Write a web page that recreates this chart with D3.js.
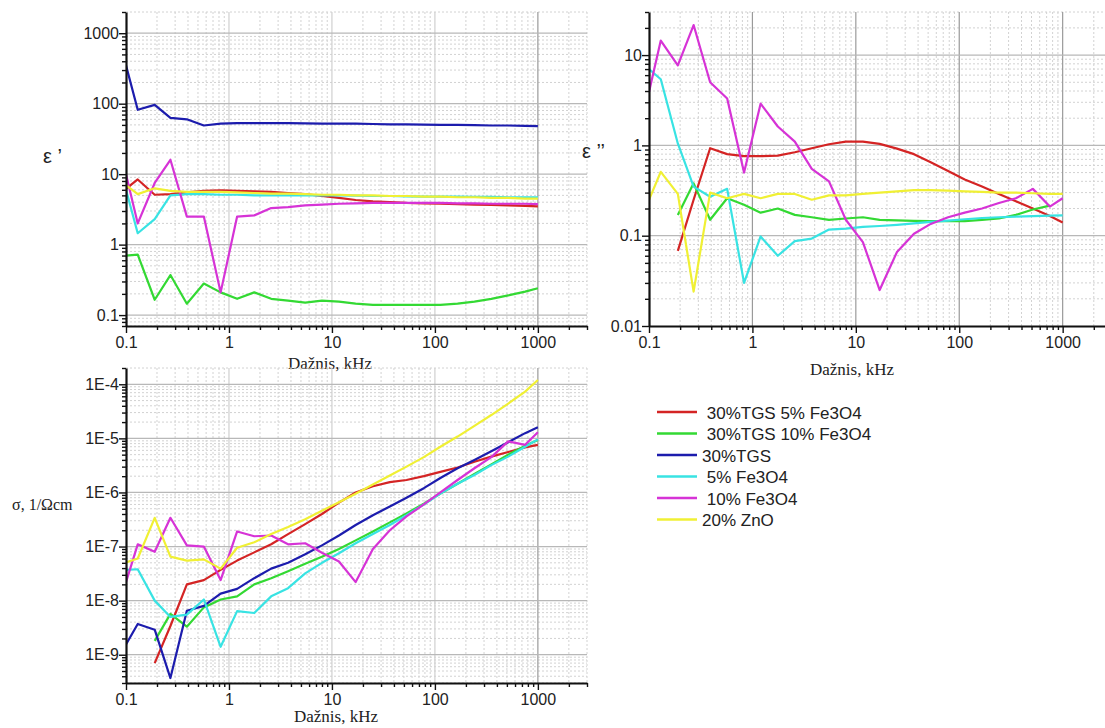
<!DOCTYPE html>
<html>
<head>
<meta charset="utf-8">
<script src="https://cdn.jsdelivr.net/npm/d3@7"></script>
<style>
body { margin: 0; background: #fff; }
svg { display: block; }
text { font-family: Arial, "Liberation Sans", sans-serif; fill: #222; }
.serif { font-family: "Times New Roman", "Liberation Serif", serif; }
</style>
</head>
<body>
<svg id="chart" width="1105" height="728"></svg>
<script>
// frequencies, kHz
var freq = [0.1, 0.13, 0.19, 0.27, 0.39, 0.57, 0.83, 1.2, 1.76, 2.57, 3.75, 5.5, 8, 11.7, 17, 25, 36.5, 53, 78, 113, 166, 242, 353, 515, 752, 1000];

var names = [" 30%TGS 5% Fe3O4", " 30%TGS 10% Fe3O4", "30%TGS", " 5% Fe3O4", " 10% Fe3O4", "20% ZnO"];
var colors = ["#d42424", "#33d933", "#1c1cad", "#38e3e3", "#d633d6", "#f0f034"];

// eps' (top left)
var e1Red = [6.2, 8.4, 5.1, 5.2, 5.5, 5.8, 5.9, 5.8, 5.7, 5.6, 5.4, 5.2, 4.9, 4.6, 4.3, 4.1, 4.0, 3.9, 3.85, 3.8, 3.75, 3.7, 3.65, 3.6, 3.55, 3.5];
var e1Green = [0.7, 0.72, 0.165, 0.37, 0.145, 0.28, 0.21, 0.17, 0.21, 0.17, 0.16, 0.15, 0.16, 0.155, 0.145, 0.14, 0.14, 0.14, 0.14, 0.14, 0.145, 0.155, 0.17, 0.19, 0.215, 0.24];
var e1Blue = [350, 82, 96, 63, 60, 49, 52, 53, 53, 53, 53, 52.5, 52, 52, 52, 51.5, 51, 51, 50.5, 50, 50, 49.5, 49, 49, 48.5, 48];
var e1Cyan = [6, 1.45, 2.3, 5.0, 5.2, 5.2, 5.1, 5.1, 5.0, 5.0, 5.0, 5.0, 5.0, 5.0, 4.95, 4.9, 4.9, 4.85, 4.8, 4.8, 4.8, 4.75, 4.75, 4.7, 4.7, 4.7];
var e1Magenta = [10, 2.0, 7.5, 16, 2.5, 2.5, 0.21, 2.5, 2.6, 3.3, 3.4, 3.6, 3.7, 3.8, 3.85, 3.9, 3.9, 3.9, 3.9, 3.9, 3.85, 3.85, 3.8, 3.8, 3.8, 3.75];
var e1Yellow = [7, 5.2, 6.3, 5.8, 5.6, 5.6, 5.6, 5.5, 5.4, 5.3, 5.3, 5.2, 5.1, 5.1, 5.0, 5.0, 4.9, 4.9, 4.8, 4.8, 4.7, 4.7, 4.6, 4.6, 4.5, 4.5];

// eps'' (top right), no 30%TGS curve
var e2Red = [null, null, 0.068, 0.25, 0.93, 0.8, 0.76, 0.76, 0.77, 0.84, 0.93, 1.03, 1.1, 1.1, 1.04, 0.92, 0.8, 0.65, 0.52, 0.42, 0.35, 0.29, 0.24, 0.2, 0.165, 0.14];
var e2Green = [null, null, 0.17, 0.38, 0.15, 0.26, 0.22, 0.18, 0.2, 0.17, 0.16, 0.15, 0.155, 0.16, 0.15, 0.148, 0.146, 0.145, 0.145, 0.145, 0.15, 0.155, 0.17, 0.195, 0.215, null];
var e2Cyan = [7.0, 5.4, 1.05, 0.35, 0.27, 0.33, 0.03, 0.098, 0.06, 0.087, 0.093, 0.117, 0.12, 0.125, 0.128, 0.132, 0.137, 0.142, 0.147, 0.152, 0.157, 0.16, 0.163, 0.165, 0.167, 0.168];
var e2Magenta = [3.9, 14.5, 7.7, 21.5, 5.0, 3.3, 0.5, 2.9, 1.62, 1.1, 0.55, 0.4, 0.15, 0.085, 0.025, 0.066, 0.105, 0.135, 0.16, 0.18, 0.2, 0.23, 0.26, 0.33, 0.21, 0.26];
var e2Yellow = [0.25, 0.51, 0.29, 0.024, 0.3, 0.26, 0.29, 0.26, 0.29, 0.29, 0.25, 0.28, 0.28, 0.29, 0.3, 0.31, 0.32, 0.32, 0.315, 0.31, 0.305, 0.3, 0.3, 0.295, 0.29, 0.29];

// sigma, 1/Ohm cm (bottom)
var sRed = [null, null, 7e-10, 3.4e-9, 2e-8, 2.4e-8, 3.7e-8, 5.5e-8, 7.8e-8, 1.1e-7, 1.7e-7, 2.6e-7, 4e-7, 6.5e-7, 1e-6, 1.3e-6, 1.55e-6, 1.7e-6, 2e-6, 2.4e-6, 2.9e-6, 3.7e-6, 4.6e-6, 5.6e-6, 6.8e-6, 7.6e-6];
var sGreen = [null, null, 1.8e-9, 5.7e-9, 3.3e-9, 7.5e-9, 1.05e-8, 1.2e-8, 2e-8, 2.6e-8, 3.5e-8, 4.8e-8, 6.5e-8, 9e-8, 1.3e-7, 1.9e-7, 2.8e-7, 4.1e-7, 6.2e-7, 9.5e-7, 1.45e-6, 2.2e-6, 3.3e-6, 5e-6, 7.3e-6, 9.3e-6];
var sBlue = [1.55e-9, 3.7e-9, 2.9e-9, 3.7e-10, 6.5e-9, 8e-9, 1.35e-8, 1.65e-8, 2.6e-8, 3.9e-8, 5e-8, 7.2e-8, 1.05e-7, 1.6e-7, 2.5e-7, 3.8e-7, 5.5e-7, 8e-7, 1.2e-6, 1.85e-6, 2.8e-6, 4e-6, 5.8e-6, 8.5e-6, 1.25e-5, 1.6e-5];
var sCyan = [3.7e-8, 3.8e-8, 1e-8, 5e-9, 5.5e-9, 1.05e-8, 1.4e-9, 6.4e-9, 5.9e-9, 1.2e-8, 1.7e-8, 3.2e-8, 5e-8, 7.5e-8, 1.15e-7, 1.7e-7, 2.5e-7, 3.8e-7, 6e-7, 9.5e-7, 1.45e-6, 2.1e-6, 3.2e-6, 4.6e-6, 7e-6, 9.6e-6];
var sMagenta = [2.2e-8, 1.1e-7, 8e-8, 3.4e-7, 1.05e-7, 1.0e-7, 2.4e-8, 1.9e-7, 1.55e-7, 1.6e-7, 1.1e-7, 1.15e-7, 7.7e-8, 5.3e-8, 2.2e-8, 9e-8, 2e-7, 3.6e-7, 6e-7, 1e-6, 1.7e-6, 2.8e-6, 4.5e-6, 8.8e-6, 7.6e-6, 1.3e-5];
var sYellow = [5.1e-8, 6e-8, 3.4e-7, 6.5e-8, 5.5e-8, 5.8e-8, 3.9e-8, 9.5e-8, 1.2e-7, 1.7e-7, 2.3e-7, 3.2e-7, 4.6e-7, 6.6e-7, 9.5e-7, 1.4e-6, 2.05e-6, 3e-6, 4.5e-6, 7e-6, 1.08e-5, 1.7e-5, 2.7e-5, 4.4e-5, 7.3e-5, 1.2e-4];

var xTicks = [0.1, 1, 10, 100, 1000];
var e1Ticks = [0.1, 1, 10, 100, 1000];
var e2Ticks = [0.01, 0.1, 1, 10];
var sTicks = [1e-9, 1e-8, 1e-7, 1e-6, 1e-5, 1e-4];

var svg = d3.select("#chart");

// minor values 2..9 x decade inside a domain
function minorValues(domain) {
    var out = [];
    var lo = Math.floor(Math.log10(domain[0])), hi = Math.ceil(Math.log10(domain[1]));
    for (var e = lo; e <= hi; e++) {
        for (var m = 2; m <= 9; m++) {
            var v = m * Math.pow(10, e);
            if (v >= domain[0] * 0.999 && v <= domain[1] * 1.001) out.push(+v.toPrecision(3));
        }
    }
    return out;
}

function drawPanel(p) {
    var x = d3.scaleLog().domain([0.1, 3000]).range([p.left, p.right]);
    var y = d3.scaleLog().domain(p.yDomain).range([p.bottom, p.top]);
    var g = svg.append("g");
    var clipId = "clip" + p.id;
    g.append("clipPath").attr("id", clipId).append("rect")
        .attr("x", p.left).attr("y", p.top)
        .attr("width", p.right - p.left).attr("height", p.bottom - p.top);

    var grid = g.append("g");
    // minor grid, dotted
    minorValues(x.domain()).forEach(function(v) {
        grid.append("line").attr("x1", x(v)).attr("x2", x(v)).attr("y1", p.top).attr("y2", p.bottom)
            .attr("stroke", "#d2d2d2").attr("stroke-dasharray", "2,2");
    });
    minorValues(p.yDomain).forEach(function(v) {
        grid.append("line").attr("x1", p.left).attr("x2", p.right).attr("y1", y(v)).attr("y2", y(v))
            .attr("stroke", "#d2d2d2").attr("stroke-dasharray", "2,2");
    });
    // major grid
    xTicks.forEach(function(v) {
        if (v === 0.1) return;
        grid.append("line").attr("x1", x(v)).attr("x2", x(v)).attr("y1", p.top).attr("y2", p.bottom)
            .attr("stroke", (v === 1000 || p.darkV) ? "#9a9a9a" : "#d0d0d0").attr("stroke-width", 1.2);
    });
    p.yTicks.forEach(function(v) {
        if (v <= p.yDomain[0]) return;
        grid.append("line").attr("x1", p.left).attr("x2", p.right).attr("y1", y(v)).attr("y2", y(v))
            .attr("stroke", "#b8b8b8").attr("stroke-width", 1.2);
    });

    // curves
    var line = d3.line()
        .defined(function(d) { return d.v != null; })
        .x(function(d) { return x(d.f); })
        .y(function(d) { return y(d.v); });
    var lines = g.append("g").attr("clip-path", "url(#" + clipId + ")");
    p.series.forEach(function(s, i) {
        if (!s) return;
        var pts = freq.map(function(f, k) { return { f: f, v: s[k] }; });
        lines.append("path").datum(pts)
            .attr("d", line)
            .attr("fill", "none")
            .attr("stroke", colors[i])
            .attr("stroke-width", 2.2)
            .attr("stroke-linejoin", "round");
    });

    // axes
    g.append("g").attr("transform", "translate(0," + p.bottom + ")")
        .call(d3.axisBottom(x).tickValues(xTicks).tickFormat(d3.format("")).tickSize(7).tickPadding(4).tickSizeOuter(0));
    g.append("g").attr("transform", "translate(0," + p.bottom + ")")
        .call(d3.axisBottom(x).tickValues(minorValues(x.domain())).tickFormat("").tickSize(4).tickSizeOuter(0))
        .select(".domain").remove();
    g.append("g").attr("transform", "translate(" + p.left + ",0)")
        .call(d3.axisLeft(y).tickValues(p.yTicks).tickFormat(p.yFormat).tickSize(7).tickPadding(0).tickSizeOuter(0));
    g.append("g").attr("transform", "translate(" + p.left + ",0)")
        .call(d3.axisLeft(y).tickValues(minorValues(p.yDomain)).tickFormat("").tickSize(4).tickSizeOuter(0))
        .select(".domain").remove();

    g.selectAll(".domain").attr("stroke", "#111").attr("stroke-width", 2.2);
    g.selectAll(".tick line").attr("stroke", "#111").attr("stroke-width", 1.4);
    g.selectAll(".tick text").attr("font-size", 16).attr("fill", "#222")
        .style("font-family", "Arial, 'Liberation Sans', sans-serif");

    g.append("text").attr("class", "serif")
        .attr("x", p.xLabel[0]).attr("y", p.xLabel[1])
        .attr("text-anchor", "middle").attr("font-size", 17)
        .text("Dažnis, kHz");
    g.append("text").attr("class", p.yLabelClass || "")
        .attr("x", p.yLabel[0]).attr("y", p.yLabel[1])
        .attr("font-size", p.yLabelSize)
        .text(p.yTitle);
}

drawPanel({
    id: 1, left: 126, right: 587, top: 12, bottom: 326,
    yDomain: [0.07, 2000], yTicks: e1Ticks, yFormat: d3.format(""),
    series: [e1Red, e1Green, e1Blue, e1Cyan, e1Magenta, e1Yellow],
    xLabel: [330, 369], yLabel: [43, 163], yLabelSize: 20, yTitle: "ε ’"
});

drawPanel({
    id: 2, left: 649, right: 1112, top: 12, bottom: 326, darkV: true,
    yDomain: [0.01, 30], yTicks: e2Ticks, yFormat: function(d) { return d3.format("")(+d.toPrecision(2)); },
    series: [e2Red, e2Green, null, e2Cyan, e2Magenta, e2Yellow],
    xLabel: [852, 375], yLabel: [582, 158], yLabelSize: 20, yTitle: "ε ’’"
});

drawPanel({
    id: 3, left: 126, right: 587, top: 368, bottom: 683,
    yDomain: [3e-10, 2e-4], yTicks: sTicks, yFormat: function(d) { return "1E" + Math.round(Math.log10(d)); },
    series: [sRed, sGreen, sBlue, sCyan, sMagenta, sYellow],
    xLabel: [336, 722], yLabel: [12, 510], yLabelSize: 16, yLabelClass: "serif", yTitle: "σ, 1/Ωcm"
});

// legend
var legend = svg.append("g").attr("transform", "translate(657,412)");
names.forEach(function(n, i) {
    var row = legend.append("g").attr("transform", "translate(0," + (i * 21.5) + ")");
    row.append("line").attr("x1", 0).attr("x2", 40).attr("y1", 0).attr("y2", 0)
        .attr("stroke", colors[i]).attr("stroke-width", 2.5);
    row.append("text").attr("x", 45).attr("y", 6.5)
        .attr("font-size", 17).style("white-space", "pre").attr("xml:space", "preserve")
        .text(n);
});
</script>
</body>
</html>
